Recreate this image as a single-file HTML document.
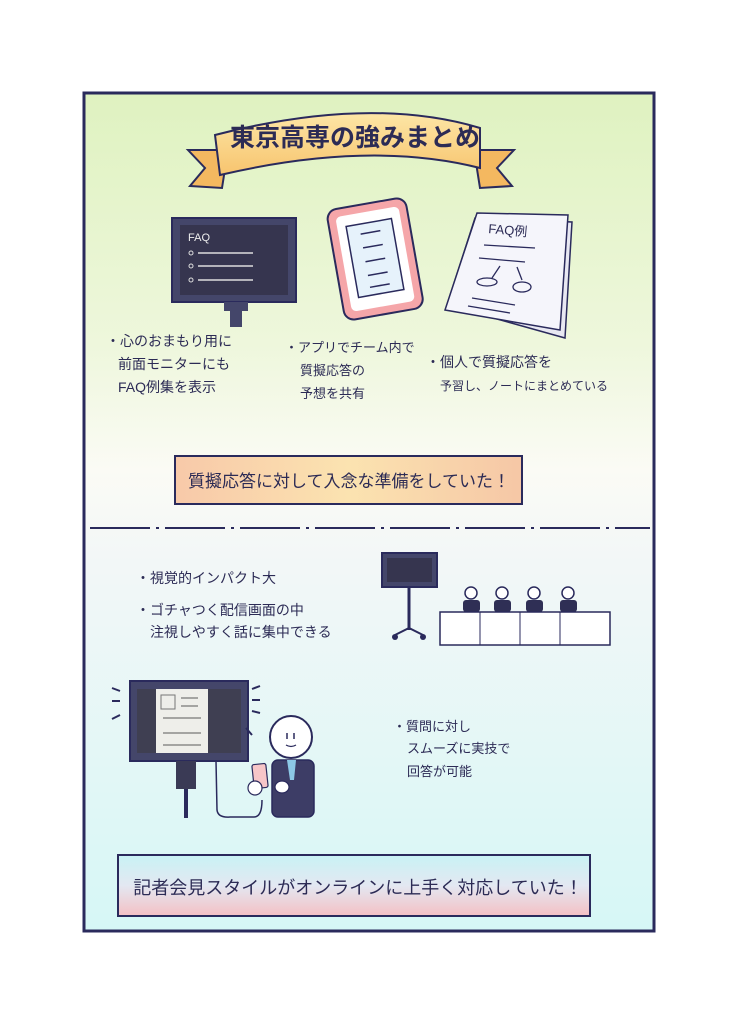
<!DOCTYPE html>
<html><head><meta charset="utf-8"><style>
html,body{margin:0;padding:0;background:#fff;}
svg{display:block}
text{font-family:"Liberation Sans","Noto Sans CJK JP",sans-serif;fill:#2c2b55}
</style></head><body>
<svg width="736" height="1024" viewBox="0 0 736 1024" xmlns="http://www.w3.org/2000/svg">
<defs>
<linearGradient id="bg" x1="0" y1="0" x2="0" y2="1">
<stop offset="0" stop-color="#dff2c0"/><stop offset="0.3" stop-color="#eef7dc"/>
<stop offset="0.45" stop-color="#fbfbf5"/><stop offset="0.55" stop-color="#f3f7f7"/>
<stop offset="1" stop-color="#d6f7f6"/></linearGradient>
<linearGradient id="yb" x1="0" y1="0" x2="1" y2="0">
<stop offset="0" stop-color="#f8c9a9"/><stop offset="0.5" stop-color="#fbe3b0"/><stop offset="1" stop-color="#f6c7a6"/></linearGradient>
<linearGradient id="bb" x1="0" y1="0" x2="0" y2="1">
<stop offset="0" stop-color="#c8f2f4"/><stop offset="0.5" stop-color="#e3e8f2"/><stop offset="1" stop-color="#f4c0c4"/></linearGradient>
<linearGradient id="rib" x1="0" y1="0" x2="0" y2="1">
<stop offset="0" stop-color="#fde6a6"/><stop offset="1" stop-color="#f7c46e"/></linearGradient>
</defs>
<rect x="84" y="93" width="570" height="838" fill="url(#bg)" stroke="#2a2a5c" stroke-width="3"/>
<!-- ribbon -->
<polygon points="188,150 228,150 222,188 190,186 205,168" fill="#f4b860" stroke="#2a2a5c" stroke-width="2"/>
<polygon points="514,150 474,150 480,188 512,186 497,168" fill="#f4b860" stroke="#2a2a5c" stroke-width="2"/>
<path d="M215,135 Q370,95 480,128 L480,168 Q370,140 220,175 Z" fill="url(#rib)" stroke="#2a2a5c" stroke-width="2"/>
<text x="355" y="146" font-size="25" text-anchor="middle" font-weight="bold">東京高専の強みまとめ</text>
<!-- monitor 1 -->
<rect x="172" y="218" width="124" height="84" fill="#44466a" stroke="#2a2a5c" stroke-width="2"/>
<rect x="180" y="225" width="108" height="70" fill="#36354f"/>
<text x="188" y="241" font-size="11" style="fill:#eee">FAQ</text>
<g stroke="#ddd" stroke-width="1.5"><line x1="198" y1="253" x2="253" y2="253"/><line x1="198" y1="266" x2="253" y2="266"/><line x1="198" y1="280" x2="253" y2="280"/></g>
<g fill="none" stroke="#ddd"><circle cx="191" cy="253" r="2"/><circle cx="191" cy="266" r="2"/><circle cx="191" cy="280" r="2"/></g>
<rect x="224" y="302" width="24" height="9" fill="#44466a"/><rect x="230" y="311" width="12" height="16" fill="#44466a"/>
<!-- tablet -->
<g transform="rotate(-10 375 258)">
<rect x="335" y="203" width="80" height="112" rx="10" fill="#f5a6a9" stroke="#2a2a5c" stroke-width="2"/>
<rect x="343" y="211" width="64" height="96" rx="5" fill="#fff"/>
<rect x="352" y="222" width="46" height="72" fill="#e6f2fb" stroke="#2a2a5c" stroke-width="1.5"/>
<g stroke="#2a2a5c" stroke-width="1.5"><line x1="365" y1="232" x2="385" y2="232"/><line x1="365" y1="246" x2="385" y2="246"/><line x1="365" y1="260" x2="385" y2="260"/><line x1="365" y1="274" x2="385" y2="274"/><line x1="365" y1="286" x2="385" y2="286"/></g>
</g>
<!-- papers -->
<polygon points="447,305 475,218 572,222 565,338" fill="#e8e8f2" stroke="#2a2a5c" stroke-width="1.5"/>
<polygon points="445,310 477,213 568,215 560,330" fill="#f5f5fb" stroke="#2a2a5c" stroke-width="1.5"/>
<text x="488" y="233" font-size="13" transform="rotate(5 488 233)">FAQ例</text>
<g stroke="#2a2a5c" stroke-width="1.3" fill="none"><line x1="484" y1="245" x2="535" y2="248"/><line x1="479" y1="258" x2="525" y2="262"/><ellipse cx="487" cy="282" rx="10" ry="4"/><ellipse cx="522" cy="287" rx="9" ry="5"/><line x1="472" y1="298" x2="515" y2="305"/><line x1="468" y1="306" x2="510" y2="313"/><path d="M500,266 L492,278 M517,267 L522,280"/></g>
<!-- texts -->
<g font-size="14">
<text x="106" y="346">・心のおまもり用に</text><text x="118" y="369">前面モニターにも</text><text x="118" y="392">FAQ例集を表示</text>
</g>
<g font-size="13">
<text x="285" y="352">・アプリでチーム内で</text><text x="300" y="375">質擬応答の</text><text x="300" y="398">予想を共有</text>
<text x="426" y="367" font-size="14">・個人で質擬応答を</text><text x="440" y="390" font-size="12">予習し、ノートにまとめている</text>
</g>
<rect x="175" y="456" width="347" height="48" fill="url(#yb)" stroke="#2a2a5c" stroke-width="2"/>
<text x="349" y="487" font-size="17" text-anchor="middle">質擬応答に対して入念な準備をしていた！</text>
<line x1="90" y1="528" x2="650" y2="528" stroke="#2a2a5c" stroke-width="2" stroke-dasharray="60,6,3,6"/>
<g font-size="14">
<text x="136" y="583">・視覚的インパクト大</text>
<text x="136" y="615">・ゴチャつく配信画面の中</text><text x="150" y="637">注視しやすく話に集中できる</text>
</g>
<g font-size="13">
<text x="393" y="731">・質問に対し</text><text x="407" y="753">スムーズに実技で</text><text x="407" y="776">回答が可能</text>
</g>
<!-- small monitor -->
<rect x="382" y="553" width="55" height="34" fill="#44466a" stroke="#2a2a5c" stroke-width="2"/>
<rect x="387" y="558" width="45" height="24" fill="#36354f"/>
<line x1="409" y1="587" x2="409" y2="630" stroke="#2a2a5c" stroke-width="3"/>
<path d="M395,635 L409,628 L423,635" fill="none" stroke="#2a2a5c" stroke-width="2"/>
<circle cx="395" cy="637" r="3" fill="#2a2a5c"/><circle cx="423" cy="637" r="3" fill="#2a2a5c"/>
<!-- people at table -->
<g fill="#fff" stroke="#2a2a5c" stroke-width="1.5">
<circle cx="471" cy="593" r="6"/><circle cx="502" cy="593" r="6"/><circle cx="534" cy="593" r="6"/><circle cx="568" cy="593" r="6"/></g>
<g fill="#2f2f55"><rect x="463" y="600" width="17" height="12" rx="3"/><rect x="494" y="600" width="17" height="12" rx="3"/><rect x="526" y="600" width="17" height="12" rx="3"/><rect x="560" y="600" width="17" height="12" rx="3"/></g>
<rect x="440" y="612" width="170" height="33" fill="#fff" stroke="#2a2a5c" stroke-width="1.5"/>
<g stroke="#2a2a5c"><line x1="480" y1="612" x2="480" y2="645"/><line x1="520" y1="612" x2="520" y2="645"/><line x1="560" y1="612" x2="560" y2="645"/></g>
<!-- big monitor -->
<rect x="130" y="681" width="118" height="80" fill="#44466a" stroke="#2a2a5c" stroke-width="2"/>
<rect x="137" y="689" width="104" height="64" fill="#3f3f52"/>
<rect x="156" y="689" width="52" height="64" fill="#eeeeea"/>
<rect x="161" y="695" width="14" height="14" fill="none" stroke="#777"/>
<g stroke="#777" stroke-width="1.3"><line x1="181" y1="698" x2="198" y2="698"/><line x1="181" y1="706" x2="198" y2="706"/><line x1="163" y1="718" x2="201" y2="718"/><line x1="163" y1="733" x2="201" y2="733"/><line x1="163" y1="745" x2="201" y2="745"/></g>
<rect x="176" y="761" width="20" height="28" fill="#3a3a55"/><line x1="186" y1="789" x2="186" y2="818" stroke="#2a2a5c" stroke-width="4"/>
<g stroke="#2a2a5c" stroke-width="2"><line x1="112" y1="688" x2="120" y2="691"/><line x1="112" y1="701" x2="120" y2="701"/><line x1="112" y1="719" x2="120" y2="715"/><line x1="252" y1="689" x2="260" y2="686"/><line x1="252" y1="700" x2="260" y2="700"/><line x1="252" y1="711" x2="260" y2="713"/><line x1="246" y1="728" x2="252" y2="735"/></g>
<path d="M216,761 L217,810 Q218,818 230,817 L254,817 Q262,817 262,800" fill="none" stroke="#2a2a5c" stroke-width="1.5"/>
<!-- person -->
<rect x="272" y="760" width="42" height="57" rx="6" fill="#3d3d66" stroke="#2a2a5c" stroke-width="1.5"/>
<polygon points="287,760 296,760 294,780 290,780" fill="#8cc8e6"/>
<circle cx="291" cy="737" r="21" fill="#fff" stroke="#2a2a5c" stroke-width="2"/>
<g stroke="#2a2a5c" stroke-width="1.5"><line x1="287" y1="733" x2="287" y2="739"/><line x1="294" y1="733" x2="294" y2="739"/></g>
<path d="M286,745 Q291,748 296,745" fill="none" stroke="#2a2a5c" stroke-width="1.2"/>
<rect x="253" y="764" width="14" height="24" rx="2" fill="#f7c6c8" stroke="#2a2a5c" stroke-width="1.2" transform="rotate(-6 260 776)"/>
<ellipse cx="255" cy="788" rx="7" ry="7" fill="#fff" stroke="#2a2a5c" stroke-width="1.2"/>
<ellipse cx="282" cy="787" rx="7" ry="6" fill="#fff" stroke="#2a2a5c" stroke-width="1.2"/>
<!-- bottom box -->
<rect x="118" y="855" width="472" height="61" fill="url(#bb)" stroke="#2a2a5c" stroke-width="2"/>
<text x="358" y="894" font-size="18" text-anchor="middle">記者会見スタイルがオンラインに上手く対応していた！</text>
</svg>
</body></html>
